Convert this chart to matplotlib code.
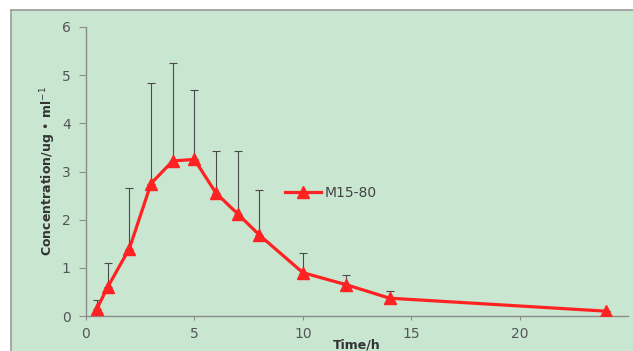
import numpy as np
import matplotlib.pyplot as plt
from matplotlib.patches import Rectangle
from matplotlib.lines import Line2D

# data
time_h = [0.5, 1, 2, 3, 4, 5, 6, 7, 8, 10, 12, 14, 24]
conc = [0.15, 0.6, 1.4, 2.75, 3.22, 3.25, 2.55, 2.12, 1.68, 0.9, 0.65, 0.37, 0.1]
upper = [0.33, 1.1, 2.65, 4.83, 5.25, 4.7, 3.43, 3.42, 2.62, 1.3, 0.85, 0.52, 0.1]
series_name = 'M15-80'

green = '#c9e6d1'
gray = '#8c8c8c'
red = '#ff2222'

fig = plt.figure(figsize=(6.33, 3.51), dpi=100)
fig.patch.set_facecolor('white')
# green panel, gray border only at top and left
x0 = 11/633
y1 = 1 - 10/351
fig.patches.append(Rectangle((x0, 0), 1 - x0, y1, transform=fig.transFigure,
                             facecolor=green, edgecolor='none', zorder=-1))
fig.add_artist(Line2D([x0, 1], [y1, y1], transform=fig.transFigure, color='#9a9a9a', lw=1.2))
fig.add_artist(Line2D([x0, x0], [0, y1], transform=fig.transFigure, color='#9a9a9a', lw=1.2))

ax = fig.add_axes([86/633, 1 - 316/351, (628 - 86)/633, (316 - 27)/351])
ax.set_facecolor('none')
ax.set_zorder(2)

yerr_up = np.array(upper) - np.array(conc)
ax.errorbar(time_h, conc, yerr=[np.zeros_like(yerr_up), yerr_up], fmt='none',
            ecolor='#4a4a4a', elinewidth=0.8, capsize=3, capthick=0.8, zorder=2)
ax.plot(time_h, conc, color=red, linewidth=2.3, marker='^', markersize=9,
        markeredgecolor=red, label=series_name, zorder=3)

ax.set_xlim(0, 25)
ax.set_ylim(0, 6)
ax.set_xticks([0, 5, 10, 15, 20])
ax.set_yticks(range(0, 7))

for s in ['top', 'right']:
    ax.spines[s].set_visible(False)
for s in ['left', 'bottom']:
    ax.spines[s].set_color(gray)
    ax.spines[s].set_linewidth(1.0)

ax.tick_params(axis='y', direction='out', length=5, color=gray, labelcolor='#555555',
               labelsize=10, pad=6)
ax.tick_params(axis='x', direction='out', length=3, color=gray, labelcolor='#555555',
               labelsize=10, pad=5)

ax.set_ylabel('Concentration/ug • ml$^{-1}$', fontsize=9, fontweight='bold',
              color='#333333', labelpad=3)
ax.set_xlabel('Time/h', fontsize=9, fontweight='bold', color='#333333', labelpad=-2)

ax.legend(loc='center left', bbox_to_anchor=(0.355, 0.426), frameon=False,
          borderpad=0, handlelength=2.6, handletextpad=0.2, fontsize=10,
          labelcolor='#444444')

fig.savefig('out.png', dpi=100)
